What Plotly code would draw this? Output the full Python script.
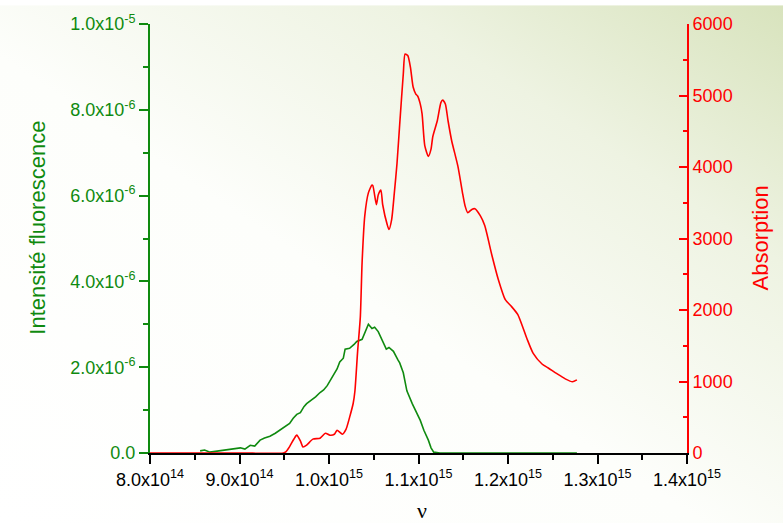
import base64
import plotly.graph_objects as go

# ---------------- data ----------------
# frequency in units of 1e15 Hz
nu_fluo = [0.856, 0.861, 0.867, 0.878, 0.889, 0.901, 0.906, 0.912, 0.917, 0.923,
           0.928, 0.934, 0.940, 0.945, 0.951, 0.956, 0.960, 0.964, 0.968, 0.972,
           0.975, 0.981, 0.985, 0.990, 0.994, 0.998, 1.001, 1.004, 1.009, 1.012,
           1.016, 1.018, 1.023, 1.028, 1.031, 1.037, 1.040, 1.044, 1.048, 1.051,
           1.055, 1.059, 1.064, 1.067, 1.072, 1.077, 1.079, 1.083, 1.087, 1.093,
           1.098, 1.102, 1.106, 1.111, 1.114, 1.117, 1.124, 1.150, 1.200, 1.250, 1.277]
# fluorescence intensity in units of 1e-6
fluo = [0.05, 0.07, 0.02, 0.05, 0.07, 0.12, 0.09, 0.18, 0.16, 0.30,
        0.35, 0.39, 0.46, 0.53, 0.60, 0.69, 0.81, 0.90, 0.94, 1.08,
        1.15, 1.24, 1.31, 1.41, 1.47, 1.57, 1.68, 1.80, 1.96, 2.12,
        2.21, 2.42, 2.44, 2.53, 2.60, 2.65, 2.79, 3.00, 2.90, 2.93,
        2.83, 2.65, 2.42, 2.46, 2.37, 2.17, 2.10, 1.87, 1.45, 1.15,
        0.92, 0.76, 0.53, 0.30, 0.12, 0.02, 0.0, 0.0, 0.0, 0.0, 0.0]

nu_abs = [0.800, 0.900, 0.949, 0.952, 0.956, 0.961, 0.964, 0.968, 0.971, 0.975,
          0.982, 0.990, 0.996, 1.001, 1.006, 1.009, 1.015, 1.019, 1.023, 1.027,
          1.029, 1.032, 1.035, 1.037, 1.040, 1.044, 1.048, 1.049, 1.053, 1.055,
          1.058, 1.060, 1.065, 1.067, 1.070, 1.073, 1.076, 1.079, 1.083, 1.085,
          1.088, 1.091, 1.094, 1.097, 1.099, 1.102, 1.104, 1.107, 1.111, 1.114,
          1.116, 1.121, 1.125, 1.127, 1.130, 1.133, 1.137, 1.144, 1.149, 1.152,
          1.155, 1.160, 1.163, 1.169, 1.174, 1.182, 1.189, 1.197, 1.204, 1.211,
          1.221, 1.228, 1.238, 1.245, 1.255, 1.264, 1.272, 1.277]
absorption = [0, 0, 0, 20, 90, 200, 250, 170, 83, 110,
              194, 207, 277, 249, 262, 318, 263, 330, 498, 692,
              871, 1425, 1900, 2669, 3320, 3638, 3748, 3740, 3472, 3610,
              3679, 3472, 3195, 3126, 3264, 3638, 4052, 4600, 5300, 5580,
              5560, 5394, 5118, 5020, 4993, 4880, 4744, 4300, 4149, 4250,
              4426, 4647, 4900, 4938, 4882, 4647, 4371, 4011, 3650, 3458,
              3361, 3410, 3416, 3320, 3181, 2766, 2434, 2144, 2047, 1936,
              1604, 1397, 1245, 1189, 1106, 1037, 996, 1023]

x_tickvals = [0.8, 0.9, 1.0, 1.1, 1.2, 1.3, 1.4]
x_ticktext = ["8.0x10<sup>14</sup>", "9.0x10<sup>14</sup>", "1.0x10<sup>15</sup>",
              "1.1x10<sup>15</sup>", "1.2x10<sup>15</sup>", "1.3x10<sup>15</sup>",
              "1.4x10<sup>15</sup>"]
y1_tickvals = [0, 2, 4, 6, 8, 10]
y1_ticktext = ["0.0", "2.0x10<sup>-6</sup>", "4.0x10<sup>-6</sup>", "6.0x10<sup>-6</sup>",
               "8.0x10<sup>-6</sup>", "1.0x10<sup>-5</sup>"]
y2_tickvals = [0, 1000, 2000, 3000, 4000, 5000, 6000]

GREEN = "#0f8a0f"
RED = "#ff0000"
FONT = "Liberation Sans, Arial, sans-serif"

W, H = 783, 524
L, R, T, B = 150, 96, 19, 71
pw, ph = W - L - R, H - T - B

# background gradient (white lower-left to pale green upper-right)
svg = f'''<svg xmlns="http://www.w3.org/2000/svg" width="{W}" height="{H}" viewBox="0 0 {W} {H}" preserveAspectRatio="none">
<defs><linearGradient id="g" x1="0" y1="1" x2="1" y2="0">
<stop offset="0" stop-color="#ffffff"/>
<stop offset="0.45" stop-color="#fdfefb"/>
<stop offset="0.75" stop-color="#eef3e2"/>
<stop offset="1" stop-color="#d8e3bd"/>
</linearGradient></defs>
<rect width="{W}" height="{H}" fill="url(#g)"/></svg>'''
src = "data:image/svg+xml;base64," + base64.b64encode(svg.encode()).decode()

fig = go.Figure()
fig.add_trace(go.Scatter(x=[v * 1e15 for v in nu_fluo], y=fluo, mode="lines",
                         line=dict(color=GREEN, width=1.6), yaxis="y", showlegend=False))
fig.add_trace(go.Scatter(x=[v * 1e15 for v in nu_abs], y=absorption, mode="lines",
                         line=dict(color=RED, width=1.6, shape="spline", smoothing=0.6),
                         yaxis="y2", showlegend=False))

fig.update_layout(
    width=W, height=H,
    margin=dict(l=L, r=R, t=T, b=B),
    paper_bgcolor="white",
    plot_bgcolor="rgba(0,0,0,0)",
    font=dict(family=FONT, size=18, color="black"),
    images=[dict(source=src, xref="paper", yref="paper",
                 x=-L / pw, y=1 + T / ph, sizex=W / pw, sizey=H / ph,
                 xanchor="left", yanchor="top", sizing="stretch", layer="below")],
    xaxis=dict(range=[0.8e15, 1.4e15], tickvals=[v * 1e15 for v in x_tickvals],
               ticktext=x_ticktext, showgrid=False, zeroline=False,
               showline=True, linecolor="black", linewidth=2,
               ticks="outside", ticklen=9, tickwidth=2, tickcolor="black",
               minor=dict(ticks="outside", ticklen=5, tickwidth=2, tickcolor="black",
                          dtick=0.05e15, tick0=0.8e15),
               tickfont=dict(size=18, color="black")),
    yaxis=dict(range=[0, 10], tickvals=y1_tickvals, ticktext=y1_ticktext,
               showgrid=False, zeroline=False, showline=True, linecolor=GREEN,
               linewidth=2, ticks="outside", ticklen=9, tickwidth=2, tickcolor=GREEN,
               minor=dict(ticks="outside", ticklen=5, tickwidth=2, tickcolor=GREEN,
                          dtick=1, tick0=0),
               tickfont=dict(size=18, color=GREEN)),
    yaxis2=dict(range=[0, 6000], tickvals=y2_tickvals, overlaying="y", side="right",
                showgrid=False, zeroline=False, showline=True, linecolor=RED,
                linewidth=2, ticks="inside", ticklen=8, tickwidth=2, tickcolor=RED,
                minor=dict(ticks="inside", ticklen=4, tickwidth=2, tickcolor=RED,
                           dtick=500, tick0=0),
                tickfont=dict(size=18, color=RED)),
    annotations=[
        dict(text="Intensité fluorescence", xref="paper", yref="paper",
             x=(38 - L) / pw, y=(H - B - 225) / ph, textangle=-90, showarrow=False,
             font=dict(size=22, color=GREEN), xanchor="center", yanchor="middle"),
        dict(text="Absorption", xref="paper", yref="paper",
             x=(760 - L) / pw, y=(H - B - 236) / ph, textangle=-90, showarrow=False,
             font=dict(size=22, color=RED), xanchor="center", yanchor="middle"),
        dict(text="ν", xref="paper", yref="paper",
             x=(422 - L) / pw, y=-(511 - (H - B)) / ph, showarrow=False,
             font=dict(size=22, color="black", family="Liberation Serif, Times New Roman, serif"),
             xanchor="center", yanchor="middle"),
    ],
)

fig.write_html("out.html")
